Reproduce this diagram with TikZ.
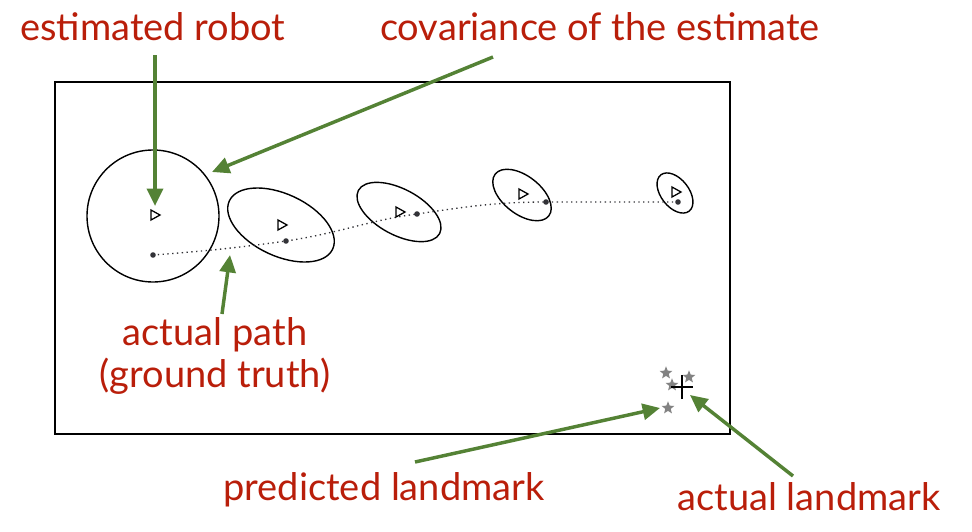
\documentclass[tikz,border=0pt]{standalone}
\usepackage{fontspec}
\setmainfont{Lato}
\usetikzlibrary{arrows.meta,shapes.geometric}
\definecolor{lblred}{RGB}{185,30,10}
\definecolor{arrgreen}{RGB}{84,130,53}
\definecolor{dotgray}{RGB}{50,50,55}
\definecolor{stargray}{RGB}{130,130,130}
\tikzset{
  lbl/.style={text=lblred,font=\fontsize{28.5}{32}\selectfont,inner sep=0pt,anchor=base},
  callout/.style={draw=arrgreen,line width=2.6pt,-{Triangle[length=13pt,width=12pt]}},
  ell/.style={draw=black,line width=1.05pt},
  pose/.style={draw=black,line width=0.95pt,fill=white},
  est/.style={circle,fill=dotgray,inner sep=0pt,minimum size=4.2pt},
  lmk/.style={star,star points=5,star point ratio=2.3,fill=stargray,inner sep=0pt,minimum size=10pt},
}
\begin{document}
\begin{tikzpicture}[x=0.75pt,y=-0.75pt]
\useasboundingbox (0,0) rectangle (972,532);
% frame
\draw[line width=1pt] (55,82) rectangle (730,434);
% uncertainty
\draw[ell] (153,216) circle [radius=66];
\draw[ell,rotate around={-25:(281,225)}] (281,225) ellipse [x radius=57,y radius=31];
\draw[ell,rotate around={-28:(399,212)}] (399,212) ellipse [x radius=46,y radius=23];
\draw[ell,rotate around={-38:(522,195)}] (522,195) ellipse [x radius=34,y radius=19];
\draw[ell,rotate around={-52:(675,193)}] (675,193) ellipse [x radius=23,y radius=14];
% actual path
\node[est] (p1) at (153,255) {};
\node[est] (p2) at (286,241) {};
\node[est] (p3) at (417,214) {};
\node[est] (p4) at (546,202) {};
\node[est] (p5) at (678,202) {};
\draw[dotgray,line width=1pt,dash pattern=on 1pt off 2.6pt] (p1.center) .. controls (220,250) and (250,246) .. (p2.center)
  .. controls (340,233) and (370,220) .. (p3.center)
  .. controls (470,206) and (500,202) .. (p4.center) -- (p5.center);
% estimated poses
\foreach \x/\y/\n in {155/215/r1,282/225/r2,400/212/r3,523/194/r4,676/192/r5}{
  \coordinate (\n) at (\x,\y);
  \draw[pose] ([shift={(-4,-5)}]\n) -- ([shift={(5,0)}]\n) -- ([shift={(-4,5)}]\n) -- cycle;
}
% landmarks
\node[lmk] (s1) at (666,373) {};
\node[lmk] (s2) at (689,377) {};
\node[lmk] (s3) at (672,385) {};
\node[lmk] (s4) at (668,408) {};
\coordinate (lm) at (682,387);
\draw[line width=1.3pt] ([xshift=-8]lm) -- ([xshift=8]lm) ([yshift=-9]lm) -- ([yshift=9]lm);
% labels
\node[lbl] (tRobot) at (153,40) {estimated robot};
\node[lbl] (tCov) at (600,40) {covariance of the estimate};
\node[lbl] (tPath) at (215,345) {actual path};
\node[lbl] (tTruth) at (215,387) {(ground truth)};
\node[lbl] (tPred) at (384,500) {predicted landmark};
\node[lbl] (tAct) at (809,510) {actual landmark};
% callouts
\coordinate (aR0) at (155,55);  \coordinate (aR1) at (155,206);
\coordinate (aC0) at (493,57);  \coordinate (aC1) at (212,172);
\coordinate (aP0) at (222,314); \coordinate (aP1) at (230,255);
\coordinate (aL0) at (415,462); \coordinate (aL1) at (660,408);
\coordinate (aA0) at (793,476); \coordinate (aA1) at (690,395);
\draw[callout] (aR0) -- (aR1);
\draw[callout] (aC0) -- (aC1);
\draw[callout] (aP0) -- (aP1);
\draw[callout] (aL0) -- (aL1);
\draw[callout] (aA0) -- (aA1);
\end{tikzpicture}
\end{document}
